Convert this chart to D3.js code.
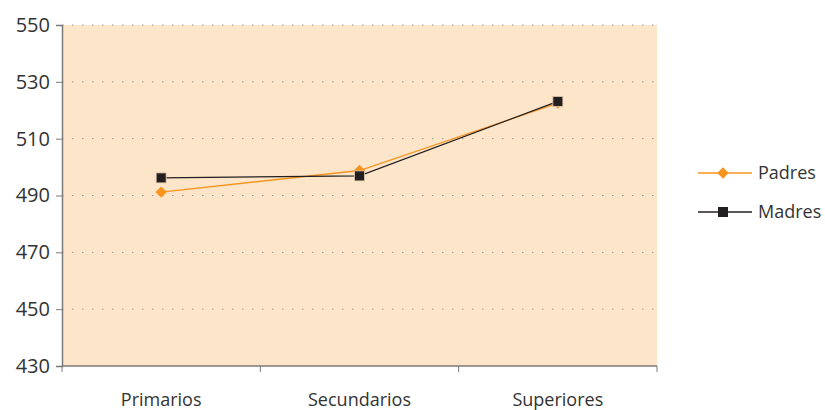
<!DOCTYPE html>
<html>
<head>
<meta charset="utf-8">
<script src="https://cdn.jsdelivr.net/npm/d3@7"></script>
<style>
  html, body { margin: 0; padding: 0; background: #fff; }
  svg { display: block; }
  text { font-family: "Open Sans", "Noto Sans", sans-serif; fill: #333; }
</style>
</head>
<body>
<svg id="chart" width="825" height="410"></svg>
<script>
// Data
const categories = ["Primarios", "Secundarios", "Superiores"];
const padres = [491.2, 498.8, 522.5];
const madres = [496.2, 496.9, 523.1];
const yTicks = [430, 450, 470, 490, 510, 530, 550];
const seriesNames = ["Padres", "Madres"];

const colors = { Padres: "#F7941D", Madres: "#231F20" };

const svg = d3.select("#chart");
const margin = { left: 62, top: 25, right: 168, bottom: 44 };
const W = 825, H = 410;
const plotW = W - margin.left - margin.right;
const plotH = H - margin.top - margin.bottom;

const x = d3.scaleBand().domain(categories).range([0, plotW]).padding(0);
const y = d3.scaleLinear().domain([430, 550]).range([plotH, 0]);

const g = svg.append("g").attr("transform", `translate(${margin.left},${margin.top})`);

// Plot background
g.append("rect").attr("x", 0).attr("y", 0).attr("width", plotW).attr("height", plotH)
  .attr("fill", "#FDE5C9");

// Dotted gridlines
g.append("g").selectAll("line").data(yTicks.filter(t => t !== 430)).join("line")
  .attr("x1", 0).attr("x2", plotW)
  .attr("y1", d => y(d)).attr("y2", d => y(d))
  .attr("stroke", "#9a9a9a").attr("stroke-width", 1)
  .attr("stroke-dasharray", "1.5,8.5");

// Y axis
const yAxis = g.append("g")
  .call(d3.axisLeft(y).tickValues(yTicks).tickSize(6).tickPadding(6).tickFormat(d3.format("d")));
yAxis.select(".domain").attr("stroke", "#7a7a7a").attr("stroke-width", 1.5);
yAxis.selectAll(".tick line").attr("stroke", "#7a7a7a");
yAxis.selectAll("text").style("font-size", "20px").attr("fill", "#333");

// X axis with ticks at band boundaries
const xg = g.append("g").attr("transform", `translate(0,${plotH})`);
xg.append("line").attr("x1", 0).attr("x2", plotW).attr("y1", 0).attr("y2", 0)
  .attr("stroke", "#7a7a7a").attr("stroke-width", 1.5);
const bounds = categories.map(c => x(c)).concat([plotW]);
xg.selectAll("line.tk").data(bounds).join("line").attr("class", "tk")
  .attr("x1", d => d).attr("x2", d => d).attr("y1", 0).attr("y2", 6)
  .attr("stroke", "#7a7a7a").attr("stroke-width", 1);
xg.selectAll("text").data(categories).join("text")
  .attr("x", d => x(d) + x.bandwidth() / 2).attr("y", 40)
  .attr("text-anchor", "middle").style("font-size", "18px").text(d => d);

const cx = c => x(c) + x.bandwidth() / 2;
const line = d3.line().x((d, i) => cx(categories[i])).y(d => y(d));

// Diamond = square rotated 45 degrees; square marker
const diamond = d3.symbol().type(d3.symbolSquare).size(64);
const square = d3.symbol().type(d3.symbolSquare).size(100);

// Padres series
g.append("path").datum(padres).attr("d", line).attr("fill", "none")
  .attr("stroke", colors.Padres).attr("stroke-width", 1.3);
g.selectAll("path.pd").data(padres).join("path").attr("class", "pd")
  .attr("d", diamond)
  .attr("transform", (d, i) => `translate(${cx(categories[i])},${y(d)}) rotate(45)`)
  .attr("fill", colors.Padres);

// Madres series
g.append("path").datum(madres).attr("d", line).attr("fill", "none")
  .attr("stroke", colors.Madres).attr("stroke-width", 1.3);
g.selectAll("path.md").data(madres).join("path").attr("class", "md")
  .attr("d", square)
  .attr("transform", (d, i) => `translate(${cx(categories[i])},${y(d)})`)
  .attr("fill", colors.Madres)
  .attr("stroke", "#e8cdb0").attr("stroke-width", 0.8);

// Legend
const legend = svg.append("g").attr("transform", "translate(698,173)");
seriesNames.forEach((name, i) => {
  const ly = i * 39;
  const item = legend.append("g").attr("transform", `translate(0,${ly})`);
  item.append("line").attr("x1", 0).attr("x2", 54).attr("y1", 0).attr("y2", 0)
    .attr("stroke", colors[name]).attr("stroke-width", 1.3);
  item.append("path")
    .attr("d", name === "Padres" ? diamond : square)
    .attr("transform", name === "Padres" ? "translate(25,0) rotate(45)" : "translate(25,0)")
    .attr("fill", colors[name]);
  item.append("text").attr("x", 60).attr("y", 0).attr("dy", "0.35em")
    .style("font-size", "18px").text(name);
});
</script>
</body>
</html>
